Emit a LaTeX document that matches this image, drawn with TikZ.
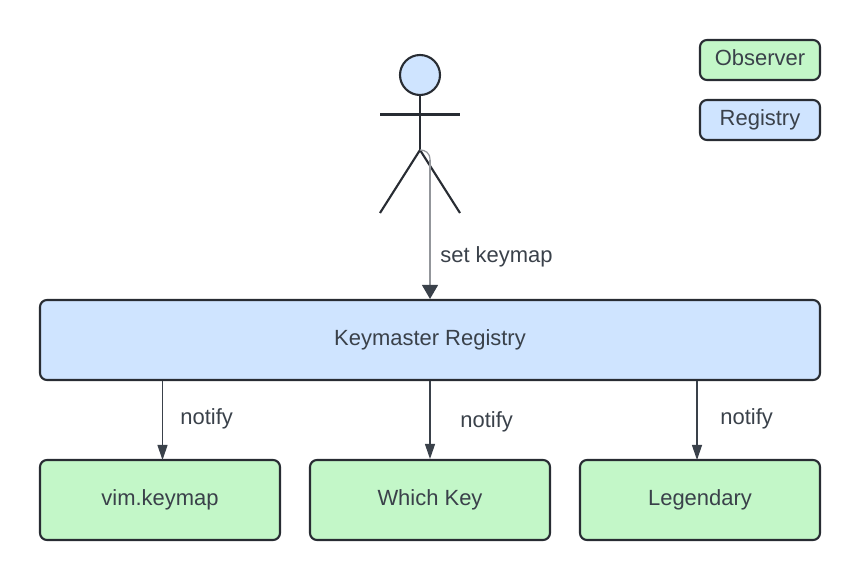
\documentclass[tikz,border=0pt]{standalone}
\usepackage{fontspec}
\setmainfont{Liberation Sans}
\usepackage{xcolor}
\usetikzlibrary{arrows.meta}
\definecolor{edge}{HTML}{282C33}
\definecolor{ink}{HTML}{3A414A}
\definecolor{observer}{HTML}{C3F7C8}
\definecolor{registry}{HTML}{CFE4FF}
\tikzset{
  box/.style={draw=edge, line width=1.2pt, rounded corners=4pt, text=ink, font=\fontsize{12.5}{14}\selectfont, inner sep=0pt},
  obsbox/.style={box, fill=observer},
  regbox/.style={box, fill=registry},
  limb/.style={draw=edge, line width=1.2pt},
  lbl/.style={anchor=west, text=ink, inner sep=0pt, font=\fontsize{12.5}{14}\selectfont},
  notifyline/.style={draw=ink, line width=0.7pt, -{Triangle[length=0.3cm,width=0.2cm]}},
  setline/.style={draw=ink!55, line width=0.7pt},
}

\begin{document}
\begin{tikzpicture}
\useasboundingbox (0,0) rectangle (17.2,11.6);

\node[regbox, minimum width=15.6cm, minimum height=1.6cm] (keymaster) at (8.6,4.8) {Keymaster Registry};
\node[obsbox, minimum width=4.8cm, minimum height=1.6cm] (vim) at (3.2,1.6) {vim.keymap};
\node[obsbox, minimum width=4.8cm, minimum height=1.6cm] (whichkey) at (8.6,1.6) {Which Key};
\node[obsbox, minimum width=4.8cm, minimum height=1.6cm] (legendary) at (14,1.6) {Legendary};
\node[obsbox, minimum width=2.4cm, minimum height=0.8cm, text depth=2.4pt] (legendobs) at (15.2,10.4) {Observer};
\node[regbox, minimum width=2.4cm, minimum height=0.8cm] (legendreg) at (15.2,9.2) {Registry};

% stick figure
\node[circle, draw=edge, fill=registry, line width=1.2pt, minimum size=0.8cm, inner sep=0pt] (head) at (8.4,10.1) {};
\coordinate (hip) at (8.4,8.6);
\coordinate (armleft) at (7.6,9.31);
\coordinate (armright) at (9.2,9.31);
\coordinate (footleft) at (7.6,7.34);
\coordinate (footright) at (9.2,7.34);
\draw[limb] (head) -- (hip);
\draw[limb] (armleft) -- (armright);
\draw[limb] (footleft) -- (hip) -- (footright);

% arrows
\coordinate (bend) at (8.6,8.4);
\draw[setline] (hip) .. controls (8.5,8.6) and (8.6,8.55) .. (bend);
\draw[setline, -{Triangle[length=0.28cm,width=0.32cm,color=ink]}] (bend) -- (keymaster.north);
\coordinate (vimtop) at (3.25,2.4);
\coordinate (legtop) at (13.94,2.4);
\draw[notifyline] (keymaster.south -| vimtop) -- (vimtop);
\draw[notifyline] (keymaster.south) -- (whichkey.north);
\draw[notifyline] (keymaster.south -| legtop) -- (legtop);

\node[lbl] (setlabel) at (8.8,6.46) {set keymap};
\node[lbl] (notifyvim) at (3.6,3.22) {notify};
\node[lbl] (notifywhich) at (9.2,3.16) {notify};
\node[lbl] (notifyleg) at (14.4,3.22) {notify};
\end{tikzpicture}
\end{document}
